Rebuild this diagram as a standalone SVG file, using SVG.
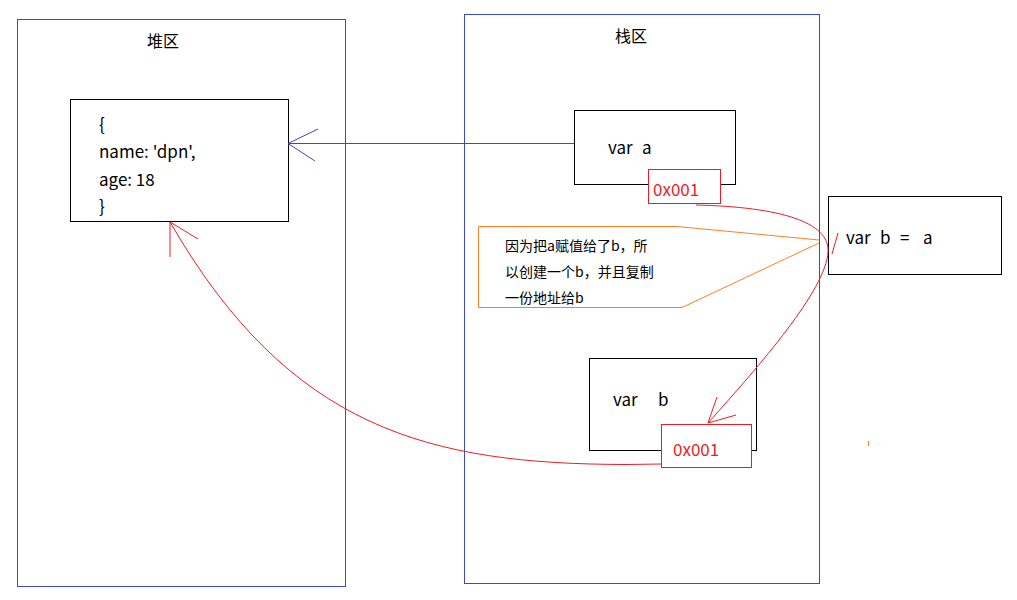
<svg xmlns="http://www.w3.org/2000/svg" width="1017" height="600" viewBox="0 0 1017 600">
<style>
.area{fill:none;stroke:#3f48cc;stroke-width:1}
.box{fill:#fff;stroke:#000;stroke-width:1}
.addr{fill:#fff;stroke:#ed1c24;stroke-width:1}
.t{font-family:"Noto Sans CJK SC","Noto Sans",sans-serif;font-size:17px;fill:#000}
.h{font-family:"Noto Sans CJK SC","Noto Sans",sans-serif;font-size:16px;fill:#000}
.rt{font-family:"Noto Sans CJK SC","Noto Sans",sans-serif;font-size:17px;fill:#ed1c24}
.ct{font-family:"Noto Sans CJK SC","Noto Sans",sans-serif;font-size:14px;fill:#000}
.red{fill:none;stroke:#ed1c24;stroke-width:1}
.blue{fill:none;stroke:#3f48cc;stroke-width:1}
.orange{fill:none;stroke:#ff7f27;stroke-width:1}
</style>
<rect width="1017" height="600" fill="#fff"/>
<g id="heap">
<rect class="area" x="17.5" y="19.5" width="328" height="567"/>
<text class="h" x="147" y="47">堆区</text>
</g>
<g id="stack">
<rect class="area" x="464.5" y="14.5" width="355" height="569"/>
<text class="h" x="615" y="42">栈区</text>
</g>
<g id="object">
<rect class="box" x="70.5" y="99.5" width="218" height="122"/>
<text class="t" x="99" y="131">{</text>
<text class="t" x="99" y="158">name: 'dpn',</text>
<text class="t" x="99" y="186">age: 18</text>
<text class="t" x="99" y="213">}</text>
</g>
<g id="var-a">
<rect class="box" x="574.5" y="110.5" width="161" height="74"/>
<text class="t" y="154"><tspan x="608">var</tspan><tspan x="642">a</tspan></text>
</g>
<g id="addr-a">
<rect class="addr" x="648.5" y="169.5" width="72" height="34"/>
<text class="rt" x="653" y="196">0x001</text>
</g>
<g id="var-b-assign">
<rect class="box" x="828.5" y="196.5" width="173" height="78"/>
<text class="t" y="244"><tspan x="846">var</tspan><tspan x="880">b</tspan><tspan x="900">=</tspan><tspan x="923">a</tspan></text>
</g>
<g id="var-b">
<rect class="box" x="589.5" y="358.5" width="167" height="92"/>
<text class="t" y="406"><tspan x="613">var</tspan><tspan x="658">b</tspan></text>
</g>
<g id="addr-b">
<rect class="addr" x="661.5" y="424.5" width="90" height="43"/>
<text class="rt" x="673" y="456">0x001</text>
</g>
<g id="note">
<path class="orange" d="M677,226.5 L478.5,226.5 L478.5,307.5 L682,307.5 L819,243 M677,226.5 L819,240"/>
<text class="ct" x="505" y="251">因为把a赋值给了b，所</text>
<text class="ct" x="505" y="277">以创建一个b，并且复制</text>
<text class="ct" x="505" y="303">一份地址给b</text>
</g>
<g id="connectors">
<path class="blue" d="M574,143.5 L288,143.5 M288,143.5 L318,129 M288,143.5 L315,161"/>
<path class="red" d="M696,205 C780,207 830,222 828,252 C826,290 760,365 708,423 M708,423 L717,397 M708,423 L736,415"/>
<path class="red" d="M838,233 L832,254"/>
<path class="red" d="M662,464 L626,464.5 C430,464 290,430 170,222 M170,222 L198,239 M170,222 L170,257"/>
<path class="orange" d="M868.5,441 L868.5,446"/>
</g>
</svg>
